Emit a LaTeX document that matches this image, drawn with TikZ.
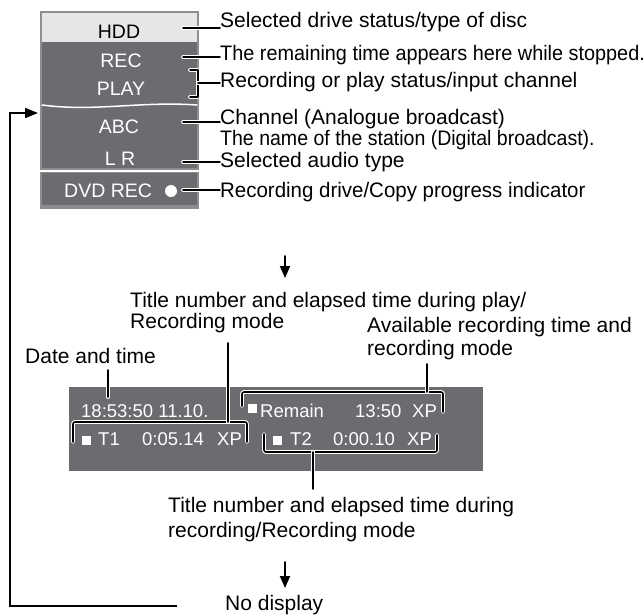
\documentclass[tikz,border=0pt]{standalone}
\usepackage{fontspec}
\setmainfont{Liberation Sans}
\usetikzlibrary{arrows.meta}
\definecolor{lcdgray}{HTML}{6B6C70}
\definecolor{rimgray}{HTML}{8E8E90}
\definecolor{hddgray}{HTML}{E6E6E7}
\newcommand{\narrow}[2]{\scalebox{#1}[1]{#2}}

\begin{document}
\begin{tikzpicture}[x=1pt,y=-1pt,line cap=round,line join=round,
  lbl/.style={anchor=base west,inner sep=0pt,font=\fontsize{21}{21}\selectfont},
  lcd/.style={anchor=base,inner sep=0pt,text=white,font=\fontsize{19.5}{19.5}\selectfont},
  osd/.style={anchor=base west,inner sep=0pt,text=white,font=\fontsize{18.5}{18.5}\selectfont},
  lead/.style={line width=1.6pt,preaction={draw=white,line width=3.8pt}},
  nextstep/.style={line width=1.8pt,-{Triangle[length=12pt,width=10pt]}}]
  \useasboundingbox (0,0) rectangle (644,614);

  % Front panel display
  \fill[rimgray] (40,11) rectangle (199,209);
  \fill[hddgray] (42,13) rectangle (197,42);
  \fill[lcdgray] (42,42) rectangle (197,168);
  \fill[lcdgray] (42,173) rectangle (197,205);
  \draw[white,line width=2pt,line cap=butt] (40,170.5) -- (199,170.5);
  \draw[white,line width=1.5pt] (42,105) .. controls (95,112) and (140,101) .. (197,105);
  \node[lcd,text=black] (hdd) at (119,38) {HDD};
  \node[lcd] (rec) at (121,67) {REC};
  \node[lcd] (play) at (121,95) {PLAY};
  \node[lcd] (abc) at (119,133) {ABC};
  \node[lcd] (lr) at (120,165) {L R};
  \node[lcd,anchor=base west] (dvdrec) at (64,197) {DVD REC};
  \fill[white] (171,191) circle (6pt);

  \node[lbl] (drive) at (220,27) {Selected drive status/type of disc};
  \node[lbl] (remtime) at (220,60) {\narrow{0.945}{The remaining time appears here while stopped.}};
  \node[lbl] (recplay) at (220,87) {Recording or play status/input channel};
  \node[lbl] (chana) at (220,124) {Channel (Analogue broadcast)};
  \node[lbl] (chanb) at (220,145) {\narrow{0.93}{The name of the station (Digital broadcast).}};
  \node[lbl] (audio) at (220,167) {Selected audio type};
  \node[lbl] (copy) at (220,197) {\narrow{0.975}{Recording drive/Copy progress indicator}};

  \coordinate (p1) at (183,28);
  \coordinate (p2) at (183,57);
  \coordinate (p3) at (198,83);
  \coordinate (p4) at (183,122);
  \coordinate (p5) at (183,162);
  \coordinate (p6) at (183,190);
  \draw[lead] (p1) -- (p1 -| drive.west);
  \draw[lead] (p2) -- (p2 -| remtime.west);
  \draw[lead] (190,70) -- (198,70) -- (198,97) -- (190,97);
  \draw[lead] (p3) -- (p3 -| recplay.west);
  \draw[lead] (p4) -- (p4 -| chana.west);
  \draw[lead] (p5) -- (p5 -| audio.west);
  \draw[lead] (p6) -- (p6 -| copy.west);

  \coordinate (a1) at (285,256);
  \coordinate (a2) at (285,278);
  \draw[nextstep] (a1) -- (a2);

  % On-screen display
  \node[lbl] (playmode) at (130,307) {Title number and elapsed time during play/};
  \node[lbl] (playmodeb) at (130,328) {Recording mode};
  \node[lbl] (avail) at (367,332) {Available recording time and};
  \node[lbl] (availb) at (367,355) {recording mode};
  \node[lbl] (datetime) at (25,363) {Date and time};

  \fill[lcdgray] (69,387) rectangle (483,471);
  \node[osd] (clock) at (81,417) {18:53:50 11.10.};
  \fill[white] (248,404) rectangle (257,413);
  \node[osd] (remain) at (260,417) {Remain};
  \node[osd] (remtime) at (355,417) {13:50};
  \node[osd] (remxp) at (412,417) {XP};
  \fill[white] (82,436) rectangle (91,445);
  \node[osd] (tone) at (98,445) {T1};
  \node[osd] (tonetime) at (142,445) {0:05.14};
  \node[osd] (tonexp) at (217,445) {XP};
  \fill[white] (273,436) rectangle (282,445);
  \node[osd] (ttwo) at (290,445) {T2};
  \node[osd] (ttwotime) at (333,445) {0:00.10};
  \node[osd] (ttwoxp) at (407,445) {XP};

  \draw[lead,rounded corners=2pt] (73,442) -- (73,422) -- (247,422) -- (247,442);
  \draw[lead,rounded corners=2pt] (242,406) -- (242,392) -- (443,392) -- (443,412);
  \draw[lead,rounded corners=2pt] (264,434) -- (264,452) -- (437,452) -- (437,435);
  \coordinate (q1) at (228,343);
  \coordinate (q2) at (228,422);
  \coordinate (q3) at (427,364);
  \coordinate (q4) at (427,392);
  \coordinate (q5) at (313,452);
  \coordinate (q6) at (313,489);
  \coordinate (q7) at (108,370);
  \coordinate (q8) at (108,397);
  \draw[lead] (q1) -- (q2);
  \draw[lead] (q3) -- (q4);
  \draw[lead] (q5) -- (q6);
  \draw[lead] (q7) -- (q8);

  \node[lbl] (recmode) at (168,512) {Title number and elapsed time during};
  \node[lbl] (recmodeb) at (168,537) {recording/Recording mode};

  \coordinate (a3) at (285,562);
  \coordinate (a4) at (285,588);
  \draw[nextstep] (a3) -- (a4);
  \node[lbl] (nodisp) at (225,610) {No display};

  % Back to the start
  \coordinate (loopend) at (177,606);
  \coordinate (looptip) at (38,113);
  \draw[line width=2pt,line cap=butt,line join=miter,-{Triangle[length=13pt,width=10pt]}]
    (loopend) -- (10,606) -- (10,113) -- (looptip);
\end{tikzpicture}
\end{document}
